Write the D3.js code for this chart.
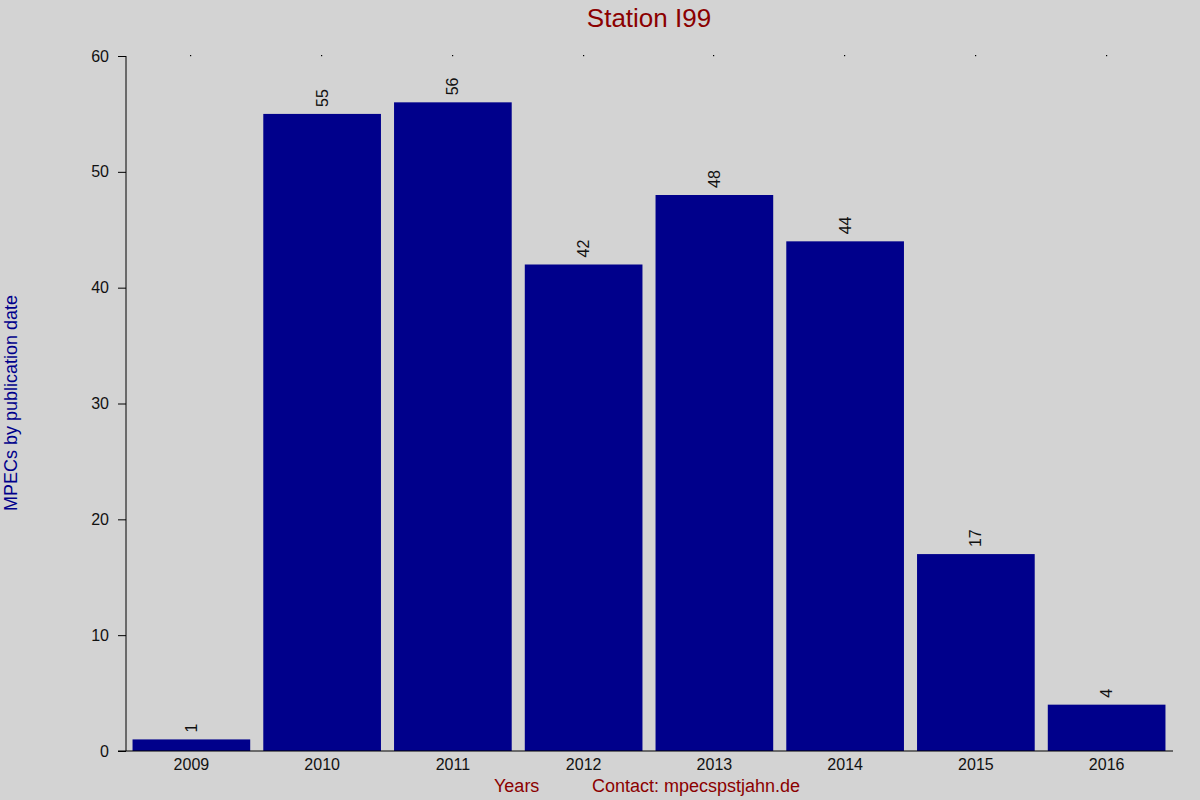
<!DOCTYPE html>
<html>
<head>
<meta charset="utf-8">
<script src="https://cdn.jsdelivr.net/npm/d3@7"></script>
<style>
  html, body { margin: 0; padding: 0; background: #d3d3d3; }
  svg { display: block; font-family: "Liberation Sans", Arial, sans-serif; }
</style>
</head>
<body>
<div id="chart"></div>
<script>
// data
var years = ["2009", "2010", "2011", "2012", "2013", "2014", "2015", "2016"];
var counts = [1, 55, 56, 42, 48, 44, 17, 4];
var yTicks = [0, 10, 20, 30, 40, 50, 60];

var w = 1200, h = 800;
var plotLeft = 126, plotRight = 1172, plotTop = 56, plotBottom = 751;

var svg = d3.select("#chart").append("svg")
    .attr("width", w)
    .attr("height", h);

svg.append("rect").attr("width", w).attr("height", h).attr("fill", "#d3d3d3");

var x = d3.scaleBand().domain(years).range([plotLeft, plotRight])
    .paddingInner(0.1).paddingOuter(0.05);
var y = d3.scaleLinear().domain([0, 60]).range([plotBottom, plotTop]);

/* bars */
svg.selectAll("rect.bar")
    .data(counts)
  .enter().append("rect")
    .attr("class", "bar")
    .attr("x", (d, i) => x(years[i]))
    .attr("y", d => y(d))
    .attr("width", x.bandwidth())
    .attr("height", d => y(0) - y(d))
    .attr("fill", "#00008b");

/* value labels, rotated */
svg.selectAll("text.val")
    .data(counts)
  .enter().append("text")
    .attr("class", "val")
    .attr("transform", (d, i) => "translate(" + (x(years[i]) + x.bandwidth() / 2) + "," + (y(d) - 7) + ") rotate(-90)")
    .attr("dy", "0.35em")
    .attr("font-size", 16)
    .attr("fill", "#111")
    .text(d => d);

/* y axis */
var yAxis = d3.axisLeft(y).tickValues(yTicks).tickSize(8).tickPadding(9);
var gy = svg.append("g")
    .attr("transform", "translate(" + plotLeft + ",0)")
    .call(yAxis);
gy.select(".domain").attr("d", "M0," + plotTop + "V" + plotBottom).attr("stroke", "#000");
gy.selectAll("line").attr("stroke", "#000");
gy.selectAll("text").attr("font-size", 16).attr("fill", "#111")
    .attr("font-family", "Liberation Sans, Arial, sans-serif");

/* x axis */
var xAxis = d3.axisBottom(x).tickSize(0).tickPadding(8);
var gx = svg.append("g")
    .attr("transform", "translate(0," + plotBottom + ")")
    .call(xAxis);
gx.select(".domain").attr("d", "M" + (plotLeft - 8) + ",0H" + (plotRight + 1)).attr("stroke", "#000");
gx.selectAll("text").attr("font-size", 16).attr("fill", "#111")
    .attr("font-family", "Liberation Sans, Arial, sans-serif");

/* little dots along the top */
svg.selectAll("rect.dot")
    .data(years)
  .enter().append("rect")
    .attr("class", "dot")
    .attr("x", d => Math.round(x(d) + x.bandwidth() / 2) - 1)
    .attr("y", plotTop - 1)
    .attr("width", 1.2)
    .attr("height", 1.2)
    .attr("fill", "#000");

/* titles */
svg.append("text")
    .attr("x", 649).attr("y", 27)
    .attr("text-anchor", "middle")
    .attr("font-size", 26)
    .attr("fill", "#8b0000")
    .text("Station I99");

svg.append("text")
    .attr("transform", "translate(17,403) rotate(-90)")
    .attr("text-anchor", "middle")
    .attr("font-size", 18)
    .attr("fill", "#00008b")
    .text("MPECs by publication date");

svg.append("text")
    .attr("x", 494).attr("y", 792)
    .attr("font-size", 18)
    .attr("fill", "#8b0000")
    .text("Years");

svg.append("text")
    .attr("x", 592).attr("y", 792)
    .attr("font-size", 18)
    .attr("fill", "#8b0000")
    .text("Contact: mpecspstjahn.de");
</script>
</body>
</html>
